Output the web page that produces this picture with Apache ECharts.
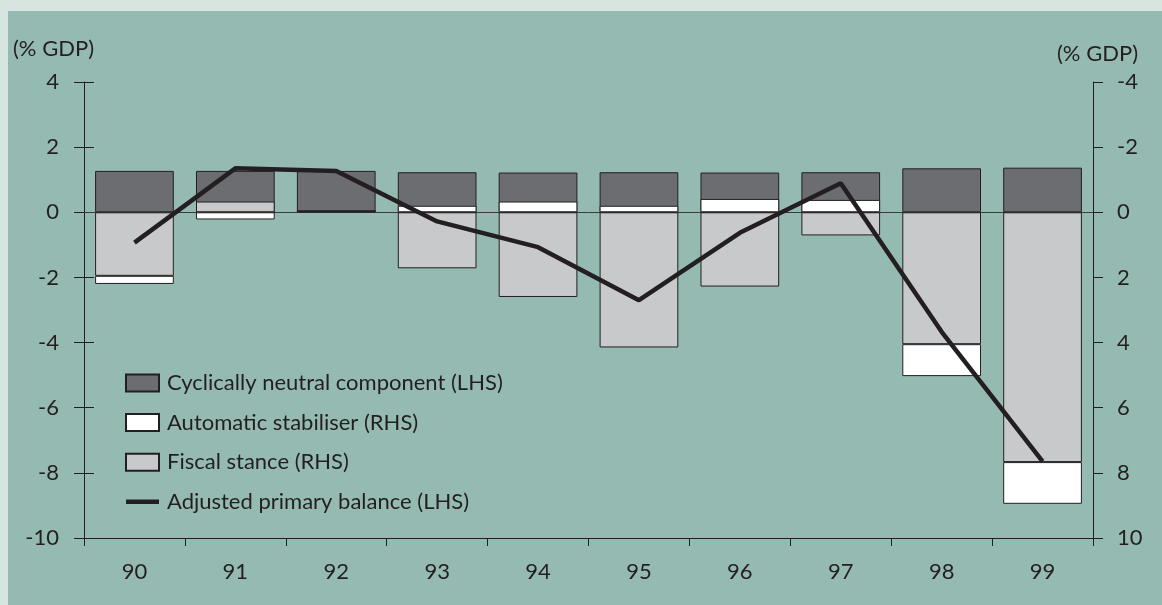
<!DOCTYPE html>
<html>
<head>
<meta charset="utf-8">
<script src="https://cdn.jsdelivr.net/npm/echarts@6/dist/echarts.min.js"></script>
<style>
html,body{margin:0;padding:0;background:#d6e5e0;}
#frame{position:absolute;left:8px;top:11px;width:1154px;height:594px;background:#95bab1;}
#chart{position:absolute;left:0;top:0;width:1162px;height:605px;}
</style>
</head>
<body>
<div id="frame"></div>
<div id="chart"></div>
<script>
const years = ['90','91','92','93','94','95','96','97','98','99'];
const cyclicallyNeutral = [1.27, 1.27, 1.27, 1.23, 1.22, 1.23, 1.22, 1.23, 1.35, 1.37];
const fiscalStance = [1.95, -0.33, -0.04, 1.72, 2.6, 4.15, 2.28, 0.71, 4.05, 7.67];
const automaticStabiliser = [0.25, 0.22, 0, -0.2, -0.33, -0.2, -0.41, -0.38, 0.98, 1.28];
const adjustedPrimaryBalance = [-0.93, 1.35, 1.27, -0.28, -1.07, -2.7, -0.63, 0.89, -3.67, -7.65];
const leftTicks = [4, 2, 0, -2, -4, -6, -8, -10];
const rightTicks = [-4, -2, 0, 2, 4, 6, 8, 10];

const FONT = 'Lato';
const FS = 22;
const INK = '#231f20';
const chart = echarts.init(document.getElementById('chart'), null, {renderer: 'canvas'});
const barCommon = {
  type: 'bar',
  barCategoryGap: '22%',
  barGap: '-100%',
  emphasis: {disabled: true}
};
chart.setOption({
  backgroundColor: 'transparent',
  animation: false,
  textStyle: {fontFamily: FONT, color: INK},
  graphic: [
    {type: 'text', left: 13, top: 38, style: {text: '(% GDP)', font: FS + 'px ' + FONT, fill: INK}},
    {type: 'text', left: 1057, top: 43, style: {text: '(% GDP)', font: FS + 'px ' + FONT, fill: INK}}
  ],
  grid: {left: 84, right: 69, top: 82, bottom: 67, containLabel: false},
  legend: {
    orient: 'vertical',
    left: 120,
    top: 367,
    itemWidth: 33,
    itemHeight: 17,
    itemGap: 17.6,
    selectedMode: false,
    textStyle: {fontFamily: FONT, fontSize: FS, color: INK, padding: [0, 0, 0, 3]},
    data: [
      {name: 'Cyclically neutral component (LHS)', icon: 'rect'},
      {name: 'Automatic stabiliser (RHS)', icon: 'rect'},
      {name: 'Fiscal stance (RHS)', icon: 'rect'},
      {name: 'Adjusted primary balance (LHS)', icon: 'path://M0,0 M0,6.3 L33,6.3 L33,10.7 L0,10.7 Z M33,17'}
    ]
  },
  xAxis: {
    type: 'category',
    data: years,
    boundaryGap: true,
    axisLine: {onZero: false, lineStyle: {color: INK, width: 1}},
    axisTick: {show: true, inside: false, length: 8, lineStyle: {color: INK}},
    axisLabel: {fontFamily: FONT, fontSize: FS, color: INK, margin: 23}
  },
  yAxis: [
    {
      type: 'value', position: 'left', min: -10, max: 4, interval: 2,
      axisLine: {show: true, lineStyle: {color: INK, width: 1}},
      axisTick: {show: true, inside: true, length: 10, lineStyle: {color: INK}},
      axisLabel: {fontFamily: FONT, fontSize: FS, color: INK, margin: 25,
        formatter: v => leftTicks.includes(v) ? String(v) : ''},
      splitLine: {show: false}
    },
    {
      type: 'value', position: 'right', min: -4, max: 10, interval: 2, inverse: true,
      axisLine: {show: true, lineStyle: {color: INK, width: 1}},
      axisTick: {show: true, inside: false, length: 10, lineStyle: {color: INK}},
      axisLabel: {fontFamily: FONT, fontSize: FS, color: INK, margin: 24,
        formatter: v => rightTicks.includes(v) ? String(v) : ''},
      splitLine: {show: false}
    },
    {
      type: 'value', position: 'left', min: -10, max: 4, interval: 2,
      axisLine: {show: false},
      axisTick: {show: true, inside: false, length: 10, lineStyle: {color: INK}},
      axisLabel: {show: false},
      splitLine: {show: false}
    }
  ],
  series: [
    Object.assign({}, barCommon, {
      name: 'Cyclically neutral component (LHS)',
      yAxisIndex: 0, stack: 'L', z: 2,
      itemStyle: {color: '#6c6d71', borderColor: INK, borderWidth: 1},
      data: cyclicallyNeutral
    }),
    Object.assign({}, barCommon, {
      name: 'Fiscal stance (RHS)',
      yAxisIndex: 1, stack: 'R', z: 3,
      itemStyle: {color: '#c8c9cb', borderColor: INK, borderWidth: 1},
      data: fiscalStance
    }),
    Object.assign({}, barCommon, {
      name: 'Automatic stabiliser (RHS)',
      yAxisIndex: 1, stack: 'R', z: 3,
      itemStyle: {color: '#ffffff', borderColor: INK, borderWidth: 1},
      data: automaticStabiliser
    }),
    {
      name: 'Adjusted primary balance (LHS)',
      type: 'line', yAxisIndex: 0, z: 5,
      symbol: 'none',
      lineStyle: {color: INK, width: 4.5},
      itemStyle: {color: INK},
      emphasis: {disabled: true},
      data: adjustedPrimaryBalance,
      markLine: {
        silent: true, symbol: 'none', z: 1,
        label: {show: false},
        lineStyle: {color: '#3a3a3a', width: 1, type: 'solid'},
        data: [{yAxis: 0}]
      }
    }
  ]
});
</script>
</body>
</html>
